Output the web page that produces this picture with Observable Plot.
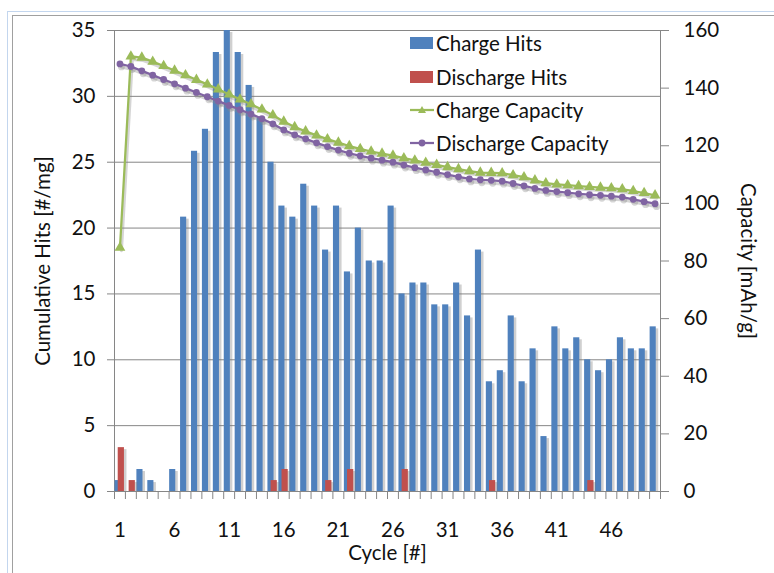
<!DOCTYPE html>
<html>
<head>
<meta charset="utf-8">
<script src="https://cdn.jsdelivr.net/npm/d3@7"></script>
<script src="https://cdn.jsdelivr.net/npm/@observablehq/plot@0.6"></script>
<style>
  body { margin: 0; background: #fff; }
  #wrap { position: relative; width: 774px; height: 573px; overflow: hidden; font-family: Lato, "Open Sans", sans-serif; background: #fff; }
  #wrap > svg { position: absolute; left: 0; top: 0; }
  .frame1 { position: absolute; left: 7px; top: 11px; right: -10px; bottom: -10px; border-left: 1px solid #c3d6ee; border-top: 1px solid #c3d6ee; }
  .frame2 { position: absolute; left: 12px; top: 15px; right: -10px; bottom: -10px; border-left: 1px solid #a0a0a0; border-top: 1px solid #a0a0a0; }
  #legend { position: absolute; left: 0; top: 0; width: 774px; height: 573px; pointer-events: none; }
  .item { position: absolute; left: 410px; height: 24px; display: flex; align-items: center; white-space: nowrap; font-size: 20.5px; color: #111; }
  .item svg { display: block; margin-right: 2px; flex: none; }
</style>
</head>
<body>
<div id="wrap">
  <div class="frame1"></div>
  <div class="frame2"></div>
</div>
<script>
// ---- data ----
const cycles = d3.range(1, 51);
const chargeHits = [0.83, 0, 1.67, 0.83, 0, 1.67, 20.83, 25.83, 27.5, 33.33,
  35, 33.33, 30.83, 28.33, 25, 21.67, 20.83, 23.33, 21.67, 18.33,
  21.67, 16.67, 20, 17.5, 17.5, 21.67, 15, 15.83, 15.83, 14.17,
  14.17, 15.83, 13.33, 18.33, 8.33, 9.17, 13.33, 8.33, 10.83, 4.17,
  12.5, 10.83, 11.67, 10, 9.17, 10, 11.67, 10.83, 10.83, 12.5];
const dischargeHits = [3.33, 0.83, 0, 0, 0, 0, 0, 0, 0, 0,
  0, 0, 0, 0, 0.83, 1.67, 0, 0, 0, 0.83,
  0, 1.67, 0, 0, 0, 0, 1.67, 0, 0, 0,
  0, 0, 0, 0, 0.83, 0, 0, 0, 0, 0,
  0, 0, 0, 0.83, 0, 0, 0, 0, 0, 0];
const chargeCapacity = [84.6, 151.0, 150.6, 149.2, 147.7, 146.1, 144.5, 142.9, 141.3, 139.6,
  137.8, 136.1, 134.4, 132.6, 130.6, 128.4, 126.5, 125.0, 123.6, 122.3,
  121.1, 119.9, 118.9, 118.0, 117.3, 116.6, 115.7, 114.9, 114.1, 113.4,
  112.6, 111.9, 111.2, 110.7, 110.6, 110.5, 109.8, 109.1, 108.0, 107.0,
  106.6, 106.3, 106.0, 105.7, 105.5, 105.3, 104.9, 104.3, 103.6, 102.8];
const dischargeCapacity = [148.4, 147.5, 146.0, 144.5, 143.0, 141.5, 140.0, 138.5, 137.0, 135.5,
  134.0, 132.5, 131.0, 129.4, 127.6, 125.5, 123.8, 122.4, 121.0, 119.7,
  118.5, 117.4, 116.5, 115.7, 115.0, 114.3, 113.3, 112.4, 111.6, 110.8,
  110.0, 109.2, 108.5, 108.2, 108.0, 107.7, 106.9, 106.1, 105.2, 104.5,
  104.1, 103.7, 103.3, 103.0, 102.8, 102.5, 102.2, 101.4, 100.6, 99.9];
const leftTicks = [0, 5, 10, 15, 20, 25, 30, 35];
const rightTicks = [0, 20, 40, 60, 80, 100, 120, 140, 160];
const xTickLabels = [1, 6, 11, 16, 21, 26, 31, 36, 41, 46];
const seriesNames = ["Charge Hits", "Discharge Hits", "Charge Capacity", "Discharge Capacity"];
const seriesColors = ["#4f81bd", "#c0504d", "#9bbb59", "#8064a2"];
const yTitle = "Cumulative Hits [#/mg]";
const y2Title = "Capacity [mAh/g]";
const xTitle = "Cycle [#]";

// ---- build ----
const k = 35 / 160; // capacity -> left axis units
const rows = cycles.map((c, i) => ({
  cycle: c, ch: chargeHits[i], dh: dischargeHits[i],
  cc: chargeCapacity[i], dc: dischargeCapacity[i]
}));
const boundaries = d3.range(0, 51).map(i => i + 0.5);
const blue = rows.filter(d => d.ch > 0);
const red = rows.filter(d => d.dh > 0);
const gridC = "#868686";
const textC = "#111";
const fs = 20.5;

const chart = Plot.plot({
  width: 774, height: 573,
  marginLeft: 114, marginRight: 114, marginTop: 30, marginBottom: 82,
  style: { fontFamily: "Lato, 'Open Sans', sans-serif", fontSize: fs + "px", color: textC, background: "transparent", overflow: "visible" },
  x: { type: "linear", domain: [0.5, 50.5], axis: null },
  y: { domain: [0, 35], axis: null },
  marks: [
    Plot.ruleY(leftTicks, { stroke: gridC, strokeWidth: 1 }),
    Plot.ruleX([0.5, 50.5], { stroke: gridC, strokeWidth: 1 }),
    Plot.axisY(leftTicks, { anchor: "left", tickSize: 7, tickPadding: 12, stroke: gridC, fill: textC, label: null }),
    Plot.axisY(rightTicks.map(v => v * k), { anchor: "right", tickSize: 8, tickPadding: 15, stroke: gridC, fill: textC, label: null, tickFormat: v => String(Math.round(v / k)) }),
    Plot.axisX(boundaries, { anchor: "bottom", tickSize: 8, stroke: gridC, tickFormat: () => "", label: null }),
    Plot.axisX(xTickLabels, { anchor: "bottom", tickSize: 0, tickPadding: 31, fill: textC, label: null }),
    // bar shadows
    Plot.rect(blue, { x1: d => d.cycle - 0.45, x2: d => d.cycle + 0.11, y1: 0, y2: "ch", fill: "#777", fillOpacity: 0.35, dx: 2.5, insetTop: 2 }),
    Plot.rect(blue, { x1: d => d.cycle - 0.45, x2: d => d.cycle + 0.11, y1: 0, y2: "ch", fill: seriesColors[0] }),
    Plot.rect(red, { x1: d => d.cycle - 0.16, x2: d => d.cycle + 0.41, y1: 0, y2: "dh", fill: "#777", fillOpacity: 0.35, dx: 2.5, insetTop: 2 }),
    Plot.rect(red, { x1: d => d.cycle - 0.16, x2: d => d.cycle + 0.41, y1: 0, y2: "dh", fill: seriesColors[1] }),
    // line shadows
    Plot.line(rows, { x: "cycle", y: d => d.cc * k, stroke: "#888", strokeOpacity: 0.35, strokeWidth: 3, dx: 1.5, dy: 3 }),
    Plot.line(rows, { x: "cycle", y: d => d.dc * k, stroke: "#888", strokeOpacity: 0.35, strokeWidth: 3, dx: 1.5, dy: 3 }),
    Plot.dot(rows, { x: "cycle", y: d => d.dc * k, r: 3.4, fill: "#888", fillOpacity: 0.35, dx: 1.5, dy: 3 }),
    // lines
    Plot.line(rows, { x: "cycle", y: d => d.cc * k, stroke: seriesColors[2], strokeWidth: 2.25 }),
    Plot.dot(rows, { x: "cycle", y: d => d.cc * k, symbol: "triangle", r: 4, fill: seriesColors[2] }),
    Plot.line(rows, { x: "cycle", y: d => d.dc * k, stroke: seriesColors[3], strokeWidth: 2.25 }),
    Plot.dot(rows, { x: "cycle", y: d => d.dc * k, r: 3.4, fill: seriesColors[3] }),
    // titles
    Plot.text([yTitle], { text: d => d, frameAnchor: "left", dx: -71, rotate: -90, textAnchor: "middle", lineAnchor: "middle", fill: textC, fontSize: fs }),
    Plot.text([y2Title], { text: d => d, frameAnchor: "right", dx: 87, rotate: 90, textAnchor: "middle", lineAnchor: "middle", fill: textC, fontSize: fs }),
    Plot.text([xTitle], { text: d => d, frameAnchor: "bottom", dy: 62, textAnchor: "middle", lineAnchor: "middle", fill: textC, fontSize: fs })
  ]
});
const wrap = document.getElementById("wrap");
wrap.appendChild(chart);

// legend overlay
const legend = document.createElement("div");
legend.id = "legend";
const centers = [43, 76.5, 110, 143];
seriesNames.forEach((name, i) => {
  const it = document.createElement("div");
  it.className = "item";
  it.style.top = (centers[i] - 12) + "px";
  let sym;
  if (i < 2) {
    sym = `<svg width="24" height="14"><rect x="0" y="1" width="23" height="12" fill="${seriesColors[i]}"/></svg>`;
  } else if (i === 2) {
    sym = `<svg width="24" height="14"><line x1="0" x2="24" y1="7" y2="7" stroke="${seriesColors[i]}" stroke-width="2.25"/><path d="M12,3 L16,10 L8,10 Z" fill="${seriesColors[i]}"/></svg>`;
  } else {
    sym = `<svg width="24" height="14"><line x1="0" x2="24" y1="7" y2="7" stroke="${seriesColors[i]}" stroke-width="2.25"/><circle cx="12" cy="7" r="3.4" fill="${seriesColors[i]}"/></svg>`;
  }
  it.innerHTML = sym + `<span>${name}</span>`;
  legend.appendChild(it);
});
wrap.appendChild(legend);
</script>
</body>
</html>
